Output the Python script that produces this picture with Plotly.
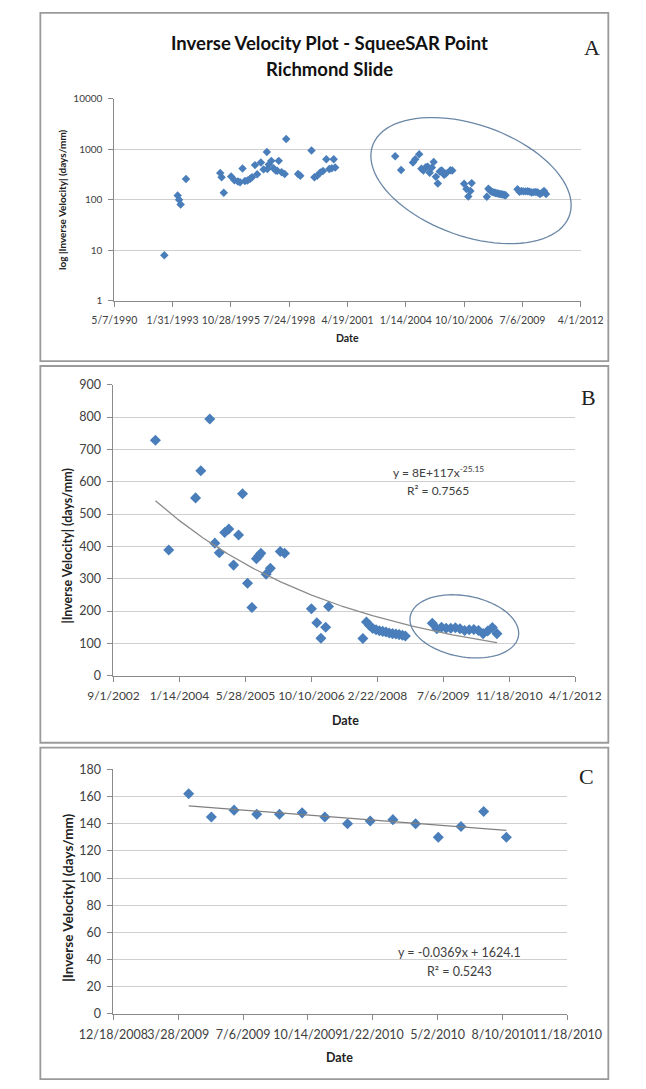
import numpy as np
import plotly.graph_objects as go

W, H = 646, 1089

# Dates are Excel serial day numbers (days since 1899-12-30)
# Early SqueeSAR record (1992-2000), shown only in the full-history plot
a_early_dates = [33857, 34086, 34110, 34137, 34229,
                 34816, 34840, 34877, 35004, 35060, 35120, 35157, 35199, 35240,
                 35284, 35330, 35361, 35413, 35450, 35514, 35560, 35616, 35625,
                 35650, 35693, 35730, 35770, 35795, 35820, 35870, 35922, 35948,
                 36152, 36190, 36382, 36432, 36480, 36534, 36580, 36636, 36687,
                 36730, 36763, 36789]
a_early_vals = [8, 122, 100, 81, 259,
                340, 280, 138, 288, 245, 230, 223, 417, 235,
                240, 260, 279, 486, 320, 547, 400, 880, 406,
                500, 590, 420, 380, 376, 590, 350, 324, 1600,
                324, 300, 950, 279, 300, 349, 370, 637, 406,
                420, 637, 437]

# 2003-2007 record
b_early_dates = [37818, 37919, 38122, 38162, 38230, 38268, 38302, 38343, 38374,
                 38410, 38448, 38478, 38516, 38549, 38583, 38600, 38617, 38657,
                 38689, 38764, 38797, 39000, 39041, 39072, 39108, 39130, 39390]
b_early_vals = [728, 389, 550, 634, 794, 410, 380, 443, 454,
                342, 435, 563, 286, 211, 362, 370, 379, 314,
                332, 384, 379, 207, 164, 116, 150, 214, 115]

# 2008 record
b_2008_dates = [39417, 39441, 39465, 39490, 39515, 39540, 39565, 39590, 39615,
                39640, 39665, 39690, 39712]
b_2008_vals = [166, 155, 146, 142, 139, 137, 135, 132, 130, 129, 127, 125, 123]

# 2009-2010 record
c_dates = [39916, 39951, 39986, 40021, 40056, 40091, 40126, 40161, 40196,
           40231, 40266, 40301, 40336, 40371, 40406]
c_vals = [162, 145, 150, 147, 147, 148, 145, 140, 142, 143, 140, 130, 138, 149, 130]

b_dates = b_early_dates + b_2008_dates + c_dates
b_vals = b_early_vals + b_2008_vals + c_vals
a_dates = a_early_dates + b_dates
a_vals = a_early_vals + b_vals

# Axis ticks
a_ticks = [33000, 34000, 35000, 36000, 37000, 38000, 39000, 40000, 41000]
a_tick_labels = ["5/7/1990", "1/31/1993", "10/28/1995", "7/24/1998", "4/19/2001",
                 "1/14/2004", "10/10/2006", "7/6/2009", "4/1/2012"]
a_y_ticks = [1, 10, 100, 1000, 10000]
a_y_labels = ["1", "10", "100", "1000", "10000"]

b_ticks = [37500, 38000, 38500, 39000, 39500, 40000, 40500, 41000]
b_tick_labels = ["9/1/2002", "1/14/2004", "5/28/2005", "10/10/2006", "2/22/2008",
                 "7/6/2009", "11/18/2010", "4/1/2012"]
b_y_ticks = [0, 100, 200, 300, 400, 500, 600, 700, 800, 900]

c_ticks = [39800, 39900, 40000, 40100, 40200, 40300, 40400, 40500]
c_tick_labels = ["12/18/2008", "3/28/2009", "7/6/2009", "10/14/2009", "1/22/2010",
                 "5/2/2010", "8/10/2010", "11/18/2010"]
c_y_ticks = [0, 20, 40, 60, 80, 100, 120, 140, 160, 180]

# Trendline coefficients (x in Excel serial days)
b_power_coef = 7.6e117
b_power_exp = -25.154
b_r2 = 0.7565
c_slope = -0.036852
c_intercept = 1624.1
c_r2 = 0.5243

BLUE = "#4a7ebb"
GRID = "#cfcfcf"
AXIS = "#8a8a8a"
TXT = "#404040"
FONT = "Lato, 'Open Sans', sans-serif"
SERIF = "'Liberation Serif', 'DejaVu Serif', serif"


def fx(px):
    return px / W


def fy(py):
    return 1 - py / H


fig = go.Figure()

# Panel A: full record on log scale
fig.add_trace(go.Scatter(x=a_dates, y=a_vals, mode="markers", xaxis="x", yaxis="y",
                         marker=dict(symbol="diamond", size=6.5, color=BLUE, line=dict(width=0)),
                         showlegend=False))

# Panel B: 2003-2010 with power-law trend
fig.add_trace(go.Scatter(x=b_dates, y=b_vals, mode="markers", xaxis="x2", yaxis="y2",
                         marker=dict(symbol="diamond", size=8.5, color=BLUE, line=dict(width=0)),
                         showlegend=False))
bx = np.linspace(min(b_dates), max(b_dates), 200)
by = b_power_coef * np.power(bx, b_power_exp)
fig.add_trace(go.Scatter(x=bx, y=by, mode="lines", xaxis="x2", yaxis="y2",
                         line=dict(color="#8c8c8c", width=1.3), showlegend=False))

# Panel C: 2009-2010 with linear trend
fig.add_trace(go.Scatter(x=c_dates, y=c_vals, mode="markers", xaxis="x3", yaxis="y3",
                         marker=dict(symbol="diamond", size=8.5, color=BLUE, line=dict(width=0)),
                         showlegend=False))
cx = np.array([min(c_dates), max(c_dates)], dtype=float)
cy = c_slope * cx + c_intercept
fig.add_trace(go.Scatter(x=cx, y=cy, mode="lines", xaxis="x3", yaxis="y3",
                         line=dict(color="#7f7f7f", width=1.3), showlegend=False))


def xaxis_style(domain, anchor, rng, ticks, labels, size):
    return dict(domain=domain, anchor=anchor, range=rng, tickmode="array",
                tickvals=ticks, ticktext=labels, tickangle=0,
                showgrid=False, zeroline=False, showline=True, linecolor=AXIS,
                linewidth=1, ticks="outside", ticklen=5, tickcolor=AXIS,
                tickfont=dict(family=FONT, size=size, color=TXT),
                ticklabelstandoff=4)


def yaxis_style(domain, anchor, ticks, size):
    return dict(domain=domain, anchor=anchor, tickmode="array", tickvals=ticks,
                showgrid=True, gridcolor=GRID, gridwidth=1.2, zeroline=False,
                showline=True, linecolor=AXIS, linewidth=1, ticks="outside",
                ticklen=5, tickcolor=AXIS,
                tickfont=dict(family=FONT, size=size, color=TXT),
                ticklabelstandoff=4)


ya = yaxis_style([fy(297), fy(92)], "x", a_y_ticks, 10)
ya.update(type="log", range=[0, 4], ticktext=a_y_labels)
yb = yaxis_style([fy(677), fy(382)], "x2", b_y_ticks, 12.5)
yb.update(range=[0, 900])
yc = yaxis_style([fy(1020), fy(772)], "x3", c_y_ticks, 12.5)
yc.update(range=[0, 180])

fig.update_layout(
    width=W, height=H,
    margin=dict(l=0, r=0, t=0, b=0),
    paper_bgcolor="white", plot_bgcolor="white",
    xaxis=xaxis_style([fx(89), fx(612)], "y", [33000, 41000], a_ticks, a_tick_labels, 10.5),
    xaxis2=xaxis_style([fx(88), fx(606)], "y2", [37500, 41000], b_ticks, b_tick_labels, 12),
    xaxis3=xaxis_style([fx(88), fx(597)], "y3", [39800, 40500], c_ticks, c_tick_labels, 12.5),
    yaxis=ya, yaxis2=yb, yaxis3=yc,
)

ann = []


def label(text, x, y, size, bold=False, family=FONT, color=TXT, angle=0):
    ann.append(dict(text=f"<b>{text}</b>" if bold else text, x=fx(x), y=fy(y),
                    xref="paper", yref="paper", showarrow=False,
                    xanchor="center", yanchor="middle", textangle=angle,
                    font=dict(family=family, size=size, color=color)))


# Titles and panel letters
label("Inverse Velocity Plot - SqueeSAR Point", 330, 35, 18.5, bold=True, color="#111111")
label("Richmond Slide", 330, 62, 18.5, bold=True, color="#111111")
label("A", 625, 40, 22, family=SERIF, color="#222222")
label("B", 621, 395, 22, family=SERIF, color="#222222")
label("C", 619, 779, 22, family=SERIF, color="#222222")

# Axis titles
label("log |Inverse Velocity| (days/mm)", 31, 194, 10, bold=True, color="#222222", angle=-90)
label("Date", 350, 335, 10.5, bold=True, color="#222222")
label("|Inverse Velocity| (days/mm)", 36, 545, 12.5, bold=True, color="#222222", angle=-90)
label("Date", 348, 722, 12.5, bold=True, color="#222222")
label("|Inverse Velocity| (days/mm)", 36, 902, 13.5, bold=True, color="#222222", angle=-90)
label("Date", 342, 1064, 12.5, bold=True, color="#222222")

# Trendline equations
label(f"y = {b_power_coef:.0E}x<sup>{b_power_exp:.2f}</sup>", 452, 470, 12)
label(f"R² = {b_r2:.4f}", 452, 489, 12)
label(f"y = {c_slope:.4f}x + {c_intercept:.1f}", 476, 958, 12.5)
label(f"R² = {c_r2:.4f}", 476, 977, 12.5)

fig.update_layout(annotations=ann)


def ellipse_path(cx_px, cy_px, a, b, theta_deg, n=90):
    t = np.radians(theta_deg)
    phi = np.linspace(0, 2 * np.pi, n, endpoint=False)
    xs = cx_px + a * np.cos(phi) * np.cos(t) - b * np.sin(phi) * np.sin(t)
    ys = cy_px + a * np.cos(phi) * np.sin(t) + b * np.sin(phi) * np.cos(t)
    pts = [f"{fx(x):.5f},{fy(y):.5f}" for x, y in zip(xs, ys)]
    return "M " + " L ".join(pts) + " Z"


shapes = [
    # Chart frames
    dict(type="rect", xref="paper", yref="paper", x0=fx(6), x1=fx(643), y0=fy(358), y1=fy(5),
         line=dict(color="#9a9a9a", width=1.8)),
    dict(type="rect", xref="paper", yref="paper", x0=fx(6), x1=fx(643), y0=fy(745), y1=fy(363),
         line=dict(color="#9a9a9a", width=1.8)),
    dict(type="rect", xref="paper", yref="paper", x0=fx(6), x1=fx(643), y0=fy(1086), y1=fy(750),
         line=dict(color="#9a9a9a", width=1.8)),
    # Highlight ellipses around the recent record
    dict(type="path", xref="paper", yref="paper", path=ellipse_path(489, 175, 116, 57, 16.7),
         line=dict(color="#6a87a6", width=1.3)),
    dict(type="path", xref="paper", yref="paper", path=ellipse_path(481.5, 627, 61.5, 31, 8.8),
         line=dict(color="#6a87a6", width=1.3)),
]
fig.update_layout(shapes=shapes)

fig.write_html("out.html")
